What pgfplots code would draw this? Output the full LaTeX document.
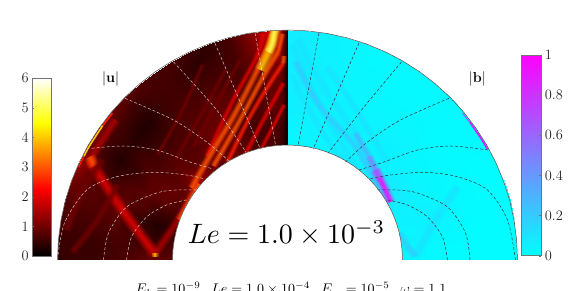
\documentclass[border=0pt]{standalone}
\usepackage{pgfplots}
\pgfplotsset{compat=1.18}
\usepgfplotslibrary{polar}
\usepackage{pgfplotstable}
\definecolor{h1}{rgb}{.44,0,0}
\definecolor{h15}{rgb}{.67,0,0}
\definecolor{h2}{rgb}{.89,0,0}
\definecolor{h25}{rgb}{1,.11,0}
\definecolor{h3}{rgb}{1,.33,0}
\definecolor{h4}{rgb}{1,.78,0}
\definecolor{h5}{rgb}{1,1,.33}
\definecolor{c1}{rgb}{.1,.9,1}
\definecolor{c2}{rgb}{.2,.8,1}
\definecolor{c3}{rgb}{.3,.7,1}
\definecolor{c5}{rgb}{.5,.5,1}
\definecolor{c7}{rgb}{.7,.3,1}
\definecolor{c9}{rgb}{.9,.1,1}
\definecolor{ticktext}{rgb}{.15,.15,.15}
\newcommand{\streak}[3]{%
\addplot[smooth,no marks,color=#1,line width=#2pt,opacity=.18] coordinates {#3};
\addplot[smooth,no marks,color=#1,line width=#2*0.8pt,opacity=.22] coordinates {#3};
\addplot[smooth,no marks,color=#1,line width=#2*0.6pt,opacity=.28] coordinates {#3};
\addplot[smooth,no marks,color=#1,line width=#2*0.4pt,opacity=.35] coordinates {#3};
\addplot[smooth,no marks,color=#1,line width=#2*0.2pt,opacity=.45] coordinates {#3};}
\newcommand{\masks}{%
\addplot[data cs=polar,no marks,draw=none,fill=white] coordinates {(-2,0)(0,115)(5,115)(10,115)(15,115)(20,115)(25,115)(30,115)(35,115)(40,115)(45,115)(50,115)(55,115)(60,115)(65,115)(70,115)(75,115)(80,115)(85,115)(90,115)(95,115)(100,115)(105,115)(110,115)(115,115)(120,115)(125,115)(130,115)(135,115)(140,115)(145,115)(150,115)(155,115)(160,115)(165,115)(170,115)(175,115)(180,115)} \closedcycle;
\addplot[data cs=polar,no marks,draw=none,fill=white] coordinates {(0,230)(5,230)(10,230)(15,230)(20,230)(25,230)(30,230)(35,230)(40,230)(45,230)(50,230)(55,230)(60,230)(65,230)(70,230)(75,230)(80,230)(85,230)(90,230)(95,230)(100,230)(105,230)(110,230)(115,230)(120,230)(125,230)(130,230)(135,230)(140,230)(145,230)(150,230)(155,230)(160,230)(165,230)(170,230)(175,230)(180,230)(180,238)(150,238)(120,238)(90,238)(60,238)(30,238)(0,238)};}
\pgfplotstableread{
t r c
90 115 .05
90 135 .05
90 155 .1
90 175 .1
90 195 .2
90 215 .3
90 230 .3
92 115 .4
92 135 .5
92 155 .7
92 175 .8
92 195 1.0
92 215 1.4
92 230 1.6
95 115 .6
95 135 .7
95 155 .8
95 175 .9
95 195 1.1
95 215 1.6
95 230 1.8
100 115 .7
100 135 .6
100 155 .7
100 175 .7
100 195 .8
100 215 1.0
100 230 1.1
105 115 .6
105 135 .6
105 155 .6
105 175 .7
105 195 .6
105 215 .6
105 230 .6
110 115 .8
110 135 .7
110 155 .8
110 175 .8
110 195 .6
110 215 .5
110 230 .4
115 115 .9
115 135 .9
115 155 .9
115 175 .8
115 195 .6
115 215 .4
115 230 .5
120 115 .8
120 135 1.0
120 155 .9
120 175 .7
120 195 .6
120 215 .5
120 230 .6
125 115 .9
125 135 .9
125 155 .8
125 175 .7
125 195 .6
125 215 .6
125 230 .6
130 115 1.0
130 135 .8
130 155 .7
130 175 .6
130 195 .5
130 215 .6
130 230 .7
135 115 1.2
135 135 .8
135 155 .7
135 175 .5
135 195 .3
135 215 .5
135 230 .8
140 115 1.5
140 135 .9
140 155 .7
140 175 .5
140 195 .3
140 215 .6
140 230 .9
145 115 1.0
145 135 .8
145 155 .7
145 175 .6
145 195 .4
145 215 .6
145 230 1.0
150 115 .8
150 135 .9
150 155 .8
150 175 .5
150 195 .3
150 215 .6
150 230 1.0
155 115 .6
155 135 .8
155 155 .8
155 175 .7
155 195 .5
155 215 .8
155 230 1.3
160 115 .5
160 135 .5
160 155 .7
160 175 .8
160 195 .7
160 215 .8
160 230 1.0
165 115 .4
165 135 .3
165 155 .5
165 175 .8
165 195 .7
165 215 .7
165 230 .7
170 115 .6
170 135 .4
170 155 .5
170 175 .7
170 195 .6
170 215 .6
170 230 .6
175 115 .7
175 135 .6
175 155 .6
175 175 .6
175 195 .5
175 215 .5
175 230 .5
180 115 .8
180 135 .9
180 155 .7
180 175 .6
180 195 .5
180 215 .5
180 230 .4
}\lefttable
\pgfplotstableread{
t r c
0 115 .03
0 150 .02
0 190 .01
0 230 .01
5 115 .05
5 150 .02
5 190 .01
5 230 .01
10 115 .05
10 150 .04
10 190 .01
10 230 .01
15 115 .04
15 150 .05
15 190 .02
15 230 .01
20 115 .05
20 150 .05
20 190 .02
20 230 .01
25 115 .06
25 150 .04
25 190 .02
25 230 .01
30 115 .10
30 150 .04
30 190 .02
30 230 .02
35 115 .10
35 150 .04
35 190 .02
35 230 .02
40 115 .10
40 150 .04
40 190 .02
40 230 .02
45 115 .08
45 150 .05
45 190 .03
45 230 .02
50 115 .06
50 150 .05
50 190 .03
50 230 .02
55 115 .06
55 150 .05
55 190 .03
55 230 .02
60 115 .05
60 150 .05
60 190 .03
60 230 .02
65 115 .05
65 150 .05
65 190 .04
65 230 .02
70 115 .04
70 150 .05
70 190 .04
70 230 .03
75 115 .04
75 150 .05
75 190 .05
75 230 .04
80 115 .04
80 150 .06
80 190 .06
80 230 .05
85 115 .03
85 150 .06
85 190 .07
85 230 .07
90 115 .03
90 150 .06
90 190 .07
90 230 .07
}\righttable
\pgfplotsset{
  hotm/.style={colormap={hotm}{rgb(0)=(0,0,0) rgb(0.375)=(1,0,0) rgb(0.75)=(1,1,0) rgb(1)=(1,1,1)}},
  coolm/.style={colormap={coolm}{rgb(0)=(0,1,1) rgb(1)=(1,0,1)}},
  panel/.style={at={(0,0)},anchor=south west,width=574pt,height=291pt,scale only axis,
    xmin=-287.5,xmax=286.5,ymin=-31,ymax=260,hide axis,clip=false},
}
\begin{document}
\begin{tikzpicture}
\clip (0,0) rectangle (574pt,291pt);
% left half
\begin{axis}[panel,hotm,point meta min=0,point meta max=6]
\addplot[surf,shader=interp,mesh/cols=7,data cs=polar,point meta=explicit] table[x=t,y=r,meta=c] {\lefttable};
% reflected beams
\streak{h2}{13}{(-198,100)(-165,50)(-132.5,6)}
\streak{h15}{10}{(-198,100)(-172,140)}
\streak{h15}{10}{(-132.5,6)(-107.5,43.3)(-88.5,80)}
\streak{h3}{9}{(-108,40)(-88,76)}
\streak{h3}{12}{(-198,103)(-193,94)}
\streak{h4}{7}{(-132.5,3)(-132.5,7)}
\streak{h1}{10}{(-221,30)(-205,70)(-185,100)}
\streak{h1}{9}{(-215,8)(-190,40)(-170,75)}
% parallel streaks towards the top
\streak{h1}{5}{(-94,113)(-70.8,156.7)(-47.5,200)}
\streak{h1}{5}{(-112,100)(-84,150)(-62,190)}
\streak{h1}{5}{(-130,105)(-105,150)(-85,195)}
\streak{h2}{6}{(-80.8,104)(-54.2,160)(-30.8,203.3)(-24.2,226)}
\streak{h3}{8}{(-96,72)(-74.2,110)(-54.2,143.3)(-34.2,181.7)(-20.8,210)(-14.8,226)}
\streak{h3}{7}{(-74,94)(-47.5,140)(-24.2,183.3)(-9.2,208.3)}
\streak{h25}{6}{(-60,98)(-37.5,143.3)(-17.5,176.7)(-4.2,196.7)}
\streak{h2}{6}{(-44,102)(-24.2,140)(-4.2,176.7)}
\streak{h2}{5}{(-28,108)(-12,138)(-3.5,155)}
\streak{h3}{6}{(-9.2,208.3)(-5,226)}
\streak{h3}{6}{(-4.2,196.7)(-3.5,204)}
\streak{h4}{12}{(-27,190)(-17,212)(-12,230)}
\streak{h5}{9}{(-19,208)(-15,217)(-13,230)}
% edge layer on the outer boundary
\masks
\addplot[data cs=polar,no marks,smooth,color=h25,line width=1.5pt] coordinates {(140,228.5)(144,228.5)};
\addplot[data cs=polar,no marks,smooth,color=h4,line width=1.6pt] coordinates {(144,228.5)(150,228.5)(153,228.5)};
\addplot[data cs=polar,no marks,smooth,color=h25,line width=1.3pt] coordinates {(153,228.5)(156,228.5)};
% field lines
\addplot[smooth,no marks,white,opacity=.75,line width=.5pt,dash pattern=on 3pt off 2pt] coordinates {(-32.5,227)(-11.8,114)};
\addplot[smooth,no marks,white,opacity=.75,line width=.5pt,dash pattern=on 3pt off 2pt] coordinates {(-72.5,216.7)(-27.5,111.7)};
\addplot[smooth,no marks,white,opacity=.75,line width=.5pt,dash pattern=on 3pt off 2pt] coordinates {(-114,198)(-70.8,150)(-40.8,106.7)};
\addplot[smooth,no marks,white,opacity=.75,line width=.5pt,dash pattern=on 3pt off 2pt] coordinates {(-162.5,161.7)(-114,140)(-80.8,118)(-57.5,98)};
\addplot[smooth,no marks,white,opacity=.75,line width=.5pt,dash pattern=on 3pt off 2pt] coordinates {(-195.8,111.7)(-164,114)(-130.8,110)(-97.5,98)(-74.2,91)};
\addplot[smooth,no marks,white,opacity=.75,line width=.5pt,dash pattern=on 3pt off 2pt] coordinates {(-230,0)(-223,37)(-200.8,70)(-170.8,83.3)(-134,87.7)(-101,85)(-82.5,81)};
\addplot[smooth,no marks,white,opacity=.75,line width=.5pt,dash pattern=on 3pt off 2pt] coordinates {(-184,0)(-179,27)(-161,53)(-131,67)(-111,70)(-91,70)};
\addplot[smooth,no marks,white,opacity=.75,line width=.5pt,dash pattern=on 3pt off 2pt] coordinates {(-161,0)(-156,23)(-141,43)(-121,55)(-101,60)};
\node at (axis cs:-176.8,181) {\Large$|\mathbf{u}|$};
\end{axis}
% right half
\begin{axis}[panel,coolm,point meta min=0,point meta max=1]
\addplot[surf,shader=interp,mesh/cols=4,data cs=polar,point meta=explicit] table[x=t,y=r,meta=c] {\righttable};
\streak{c1}{9}{(10,220)(38,170)(68,126.7)}
\streak{c1}{8}{(5,215)(24,172)(46,130)(70,90)}
\streak{c1}{8}{(40,193)(70,148)(100,98)}
\streak{c2}{8}{(8,198)(30,157)(68,113)(90,74)}
\streak{c1}{7}{(5,185)(14,163)(37,125)(56,100)}
\streak{c3}{8}{(68,126.7)(81.5,103.3)}
\streak{c5}{9}{(81.5,103.3)(93,80)}
\streak{c7}{11}{(88,90)(95,76)(103,58)}
\streak{c9}{6}{(92,82)(97,72)(103,58)}
\streak{c1}{11}{(128,4)(148,40)(170,73)}
\streak{c2}{9}{(128,4)(118,16)(111.5,27)}
\masks
\addplot[data cs=polar,no marks,smooth,color=c7,line width=1pt] coordinates {(40,228.5)(37,228.5)};
\addplot[data cs=polar,no marks,smooth,color=c9,line width=1.6pt] coordinates {(37,228.5)(32,228.5)(29,228.5)};
\addplot[smooth,no marks,black!80,line width=.5pt,dash pattern=on 3pt off 2pt] coordinates {(31.5,227)(10.5,114)};
\addplot[smooth,no marks,black!80,line width=.5pt,dash pattern=on 3pt off 2pt] coordinates {(71.5,217)(25.5,110.7)};
\addplot[smooth,no marks,black!80,line width=.5pt,dash pattern=on 3pt off 2pt] coordinates {(114,198)(76.5,153)(40.5,106.7)};
\addplot[smooth,no marks,black!80,line width=.5pt,dash pattern=on 3pt off 2pt] coordinates {(161.5,161.7)(113,140)(80,118)(58,98)};
\addplot[smooth,no marks,black!80,line width=.5pt,dash pattern=on 3pt off 2pt] coordinates {(200.5,110)(163,114)(130,110)(96.5,98)(71.5,90)};
\addplot[smooth,no marks,black!80,line width=.5pt,dash pattern=on 3pt off 2pt] coordinates {(228,0)(220,40)(200,70)(170,83.3)(136.5,87.7)(103,85)(81.5,81)};
\addplot[smooth,no marks,black!80,line width=.5pt,dash pattern=on 3pt off 2pt] coordinates {(182.5,0)(178,27)(160,53)(130,67)(110,70)(90,70)};
\addplot[smooth,no marks,black!80,line width=.5pt,dash pattern=on 3pt off 2pt] coordinates {(160,0)(155,23)(140,43)(120,55)(100,60)};
% outline
\addplot[data cs=polar,no marks,color=black!70,line width=.5pt] coordinates {(0,230)(5,230)(10,230)(15,230)(20,230)(25,230)(30,230)(35,230)(40,230)(45,230)(50,230)(55,230)(60,230)(65,230)(70,230)(75,230)(80,230)(85,230)(90,230)(95,230)(100,230)(105,230)(110,230)(115,230)(120,230)(125,230)(130,230)(135,230)(140,230)(145,230)(150,230)(155,230)(160,230)(165,230)(170,230)(175,230)(180,230)};
\addplot[data cs=polar,no marks,color=black!70,line width=.5pt] coordinates {(0,115)(5,115)(10,115)(15,115)(20,115)(25,115)(30,115)(35,115)(40,115)(45,115)(50,115)(55,115)(60,115)(65,115)(70,115)(75,115)(80,115)(85,115)(90,115)(95,115)(100,115)(105,115)(110,115)(115,115)(120,115)(125,115)(130,115)(135,115)(140,115)(145,115)(150,115)(155,115)(160,115)(165,115)(170,115)(175,115)(180,115)};
\node at (axis cs:189.8,181) {\Large$|\mathbf{b}|$};
\node[scale=2.8] at (axis cs:-1,27) {$Le = 1.0\times 10^{-3}$};
\node[anchor=base,scale=1.4] at (axis cs:3.5,-34) {$E_k = 10^{-9},\ Le = 1.0\times 10^{-4},\ E_m = 10^{-5},\ \omega = 1.1$};
\end{axis}
% colour bars
\begin{axis}[at={(32.3pt,35pt)},anchor=south west,width=19.4pt,height=177.7pt,scale only axis,axis on top,
  hotm,point meta min=0,point meta max=6,xmin=0,xmax=1,ymin=0,ymax=6,xtick=\empty,
  ytick={0,1,2,3,4,5,6},tick style={black!55},tick align=inside,major tick length=2pt,axis line style={black!55,line width=.6pt},
  tick label style={font=\Large,text=ticktext},yticklabel pos=left,ytick pos=left]
\addplot[surf,shader=interp,mesh/cols=2,point meta=y] coordinates {
(0,0)(1,0)

(0,1)(1,1)

(0,2.25)(1,2.25)

(0,3)(1,3)

(0,4.5)(1,4.5)

(0,5)(1,5)

(0,6)(1,6)
};
\end{axis}
\begin{axis}[at={(521.7pt,35.3pt)},anchor=south west,width=19.6pt,height=200.7pt,scale only axis,axis on top,
  coolm,point meta min=0,point meta max=1,xmin=0,xmax=1,ymin=0,ymax=1,xtick=\empty,
  ytick={0,0.2,0.4,0.6,0.8,1},tick style={black!55},tick align=inside,major tick length=2pt,axis line style={black!55,line width=.6pt},
  tick label style={font=\Large,text=ticktext},yticklabel pos=right,ytick pos=right,
  yticklabel style={/pgf/number format/fixed}]
\addplot[surf,shader=interp,mesh/cols=2,point meta=y] coordinates {
(0,0)(1,0)

(0,0.5)(1,0.5)

(0,1)(1,1)
};
\end{axis}
\end{tikzpicture}
\end{document}
